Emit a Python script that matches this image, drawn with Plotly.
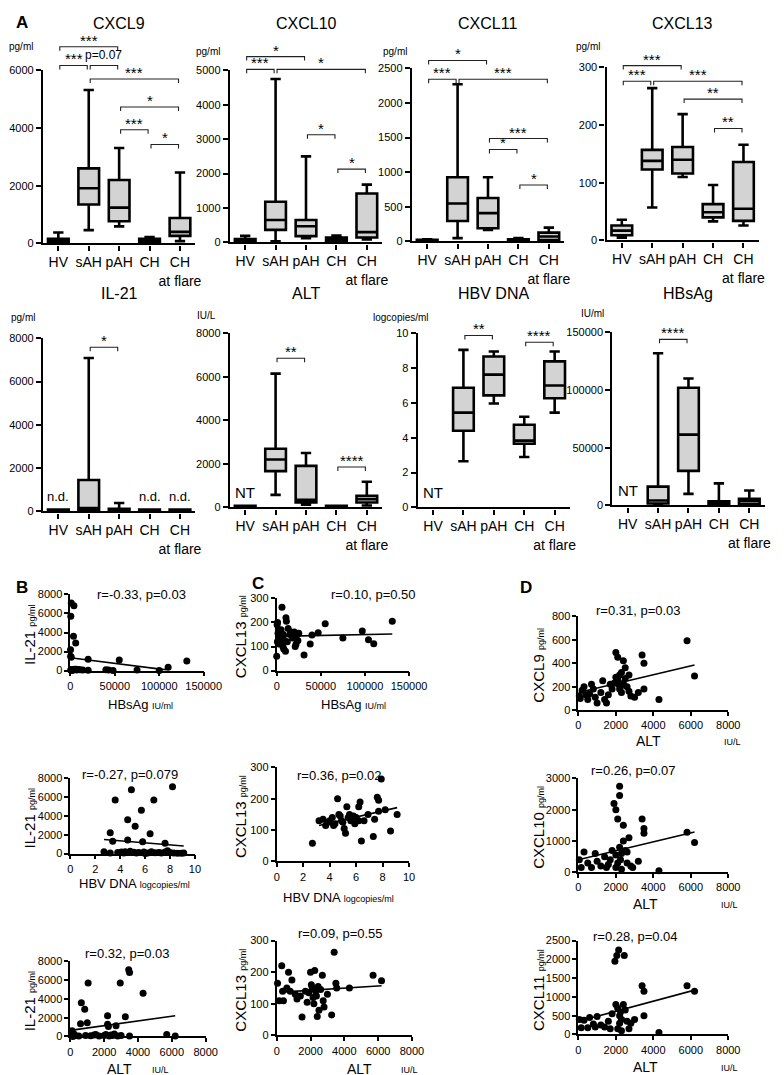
import plotly.graph_objects as go

W, H = 784, 1075
FONT = "Liberation Sans, Arial, sans-serif"

# ---------------- DATA ----------------
categories = ["HV", "sAH", "pAH", "CH", "CH<br>at flare"]

# Panel A box statistics per category: lower whisker, Q1, median, Q3, upper whisker
cxcl9_lo = [10, 460, 590, 20, 80]
cxcl9_q1 = [40, 1350, 770, 60, 260]
cxcl9_med = [90, 1910, 1240, 120, 400]
cxcl9_q3 = [160, 2600, 2200, 160, 880]
cxcl9_hi = [380, 5320, 3310, 220, 2460]

cxcl10_lo = [0, 30, 125, 10, 86]
cxcl10_q1 = [20, 364, 182, 40, 144]
cxcl10_med = [60, 650, 470, 90, 300]
cxcl10_q3 = [100, 1180, 650, 140, 1420]
cxcl10_hi = [190, 4750, 2500, 200, 1680]

cxcl11_lo = [0, 48, 167, 0, 10]
cxcl11_q1 = [5, 295, 190, 10, 20]
cxcl11_med = [15, 547, 409, 20, 71]
cxcl11_q3 = [25, 928, 628, 30, 128]
cxcl11_hi = [30, 2271, 928, 50, 200]

cxcl13_lo = [4.6, 57, 110, 33, 26]
cxcl13_q1 = [9, 123, 116, 40, 34]
cxcl13_med = [17, 138, 140, 49, 55]
cxcl13_q3 = [26, 157, 162, 63, 136]
cxcl13_hi = [36, 264, 219, 96, 166]

il21_lo = [0, 0, 0, 0, 0]
il21_q1 = [0, 60, 20, 0, 0]
il21_med = [30, 150, 60, 30, 30]
il21_q3 = [80, 1450, 120, 80, 80]
il21_hi = [80, 7090, 390, 80, 80]

alt_lo = [0, 576, 121, 0, 91]
alt_q1 = [0, 1670, 227, 0, 227]
alt_med = [30, 2200, 348, 30, 379]
alt_q3 = [80, 2700, 1910, 80, 530]
alt_hi = [80, 6150, 2500, 80, 1180]

hbv_lo = [None, 2.65, 5.97, 2.90, 5.45]
hbv_q1 = [None, 4.41, 6.44, 3.66, 6.27]
hbv_med = [None, 5.45, 7.63, 3.84, 7.01]
hbv_q3 = [None, 6.88, 8.67, 4.75, 8.39]
hbv_hi = [None, 9.05, 8.96, 5.21, 8.96]

hbsag_lo = [None, 0, 10000, 0, 0]
hbsag_q1 = [None, 1700, 30000, 500, 1000]
hbsag_med = [None, 4300, 61400, 1500, 3700]
hbsag_q3 = [None, 16300, 102000, 3500, 5700]
hbsag_hi = [None, 132000, 110000, 19100, 12900]

# significance brackets: (from category, to category, value, label)
cxcl9_sig = [(0, 2, 6820, "***"), (0, 1, 6170, "***"), (1, 2, 6170, "p=0.07"),
             (1, 4, 5700, "***"), (2, 4, 4730, "*"), (2, 3, 3940, "***"), (3, 4, 3430, "*")]
cxcl10_sig = [(0, 2, 5400, "*"), (0, 1, 5030, "***"), (1, 4, 5030, "*"),
              (2, 3, 3130, "*"), (3, 4, 2130, "*")]
cxcl11_sig = [(0, 2, 2615, "*"), (0, 1, 2343, "***"), (1, 4, 2343, "***"),
              (2, 4, 1486, "***"), (2, 3, 1329, "*"), (3, 4, 815, "*")]
cxcl13_sig = [(0, 2, 303, "***"), (0, 1, 276, "***"), (1, 4, 276, "***"),
              (2, 4, 245, "**"), (3, 4, 194, "**")]
il21_sig = [(1, 2, 7590, "*")]
alt_sig = [(1, 2, 6860, "**"), (3, 4, 1860, "****")]
hbv_sig = [(1, 2, 9.88, "**"), (3, 4, 9.49, "****")]
hbsag_sig = [(1, 2, 144000, "****")]

# Panels B-D scatter data
b1_hbsag = [1000, 4000, 500, 3500, 6000, 200, 300, 1000, 20000, 55000, 110000, 131000,
            500, 1500, 3000, 5000, 7000, 9000, 11000, 14000, 20000, 40000, 43000, 48000,
            75000, 100000, 2000, 800, 6500]
b1_il21 = [7100, 6800, 5700, 3600, 2900, 2200, 1500, 1400, 1200, 1100, 350, 1000,
           50, 100, 80, 150, 60, 120, 100, 50, 30, 80, 60, 20, 50, 10, 0, 100, 150]
b2_hbv = [8.2, 4.9, 3.6, 6.7, 5.7, 4.6, 5.2, 3.2, 6.4, 3.4, 4.6, 5.8, 7.6,
          2.7, 3.2, 3.8, 4.1, 4.4, 4.8, 5.0, 5.3, 5.5, 5.9, 6.2, 6.5, 6.8, 7.3, 7.6, 7.8,
          8.0, 8.3, 8.6, 8.9, 9.1, 7.1, 5.1, 4.3, 6.0]
b2_il21 = [7100, 6800, 5700, 5700, 4600, 3600, 2900, 2200, 2100, 1300, 1450, 1250, 1100,
           200, 50, 100, 150, 200, 250, 100, 50, 100, 150, 50, 200, 80, 50, 150, 300,
           100, 50, 30, 40, 60, 120, 130, 60, 0]
b3_alt = [1050, 650, 850, 1000, 600, 2950, 3450, 3500, 4300, 2200, 3250, 2200, 2250, 2700,
          100, 200, 300, 500, 900, 1200, 1400, 1500, 1700, 2000, 2100, 2300, 2400, 2500,
          2600, 2800, 3000, 3500, 5700, 6200, 150]
b3_il21 = [5700, 3600, 2900, 1450, 1350, 5700, 7100, 6800, 4600, 2200, 2100, 1300, 1050, 1150,
           600, 300, 100, 50, 100, 80, 150, 200, 50, 100, 200, 50, 150, 100,
           250, 50, 100, 50, 200, 50, 0]

c1_hbsag = [0, 500, 1000, 2000, 3000, 3500, 4000, 5000, 6000, 7000, 7500, 8000, 9000, 10000,
            10500, 11000, 12000, 13000, 15000, 18000, 20000, 21000, 22000, 23000, 24000, 2500,
            1500, 4500, 6500, 31000, 38000, 40000, 47000, 55000, 75000, 97000, 104000, 110000,
            131000, 800, 16000, 25000, 2200, 3800]
c1_cxcl13 = [60, 190, 200, 140, 150, 120, 130, 170, 263, 100, 150, 90, 125, 80,
             220, 205, 120, 175, 150, 135, 160, 100, 110, 150, 125, 110,
             155, 145, 140, 65, 110, 148, 157, 195, 135, 165, 128, 112,
             205, 120, 160, 155, 170, 165]
c2_hbv = [2.7, 3.2, 3.5, 3.7, 4.0, 4.2, 4.4, 4.6, 4.7, 4.8, 4.9, 5.0, 5.1, 5.2, 5.3, 5.4, 5.5,
          5.6, 5.8, 6.0, 6.2, 6.2, 6.3, 6.4, 6.6, 6.9, 7.3, 7.4, 7.6, 7.7, 7.7, 7.9, 8.2, 8.6,
          9.1, 4.3, 3.9, 5.9]
c2_cxcl13 = [58, 130, 135, 115, 130, 140, 120, 200, 150, 145, 130, 125, 105, 90, 175, 140, 150,
             130, 145, 140, 130, 175, 190, 65, 130, 150, 80, 135, 205, 195, 160, 263, 165, 97,
             150, 115, 125, 120]
c3_alt = [50, 150, 300, 350, 400, 600, 700, 800, 900, 1100, 1200, 1400, 1500, 1800, 1900, 2000,
          2050, 2100, 2150, 2200, 2250, 2300, 2400, 2450, 2500, 2600, 2700, 2750, 2800, 3000,
          3250, 3400, 3500, 3550, 4300, 5700, 6200, 1700, 2350]
c3_cxcl13 = [165, 110, 220, 140, 110, 150, 200, 140, 175, 130, 115, 125, 58, 105, 135, 200,
             160, 150, 120, 100, 205, 140, 60, 155, 80, 145, 190, 110, 90, 130,
             65, 263, 165, 150, 150, 190, 173, 140, 125]

d1_alt = [50, 100, 200, 300, 400, 500, 600, 700, 800, 900, 1000, 1200, 1300, 1400, 1500, 1600,
          1800, 1900, 2000, 2000, 2100, 2100, 2150, 2200, 2200, 2250, 2300, 2300, 2400, 2400,
          2500, 2600, 2700, 2700, 2800, 3000, 3200, 3400, 3500, 3500, 4300, 5800, 6200, 1700, 2500]
d1_cxcl9 = [120, 100, 170, 200, 130, 90, 140, 220, 180, 110, 60, 150, 250, 90, 60, 130,
            180, 230, 280, 490, 450, 260, 220, 300, 180, 200, 320, 150, 420, 230,
            270, 200, 300, 160, 120, 110, 150, 470, 400, 180, 90, 590, 290, 220, 360]
d2_alt = [50, 150, 300, 500, 700, 900, 1000, 1200, 1400, 1500, 1600, 1800, 1900, 2000, 2000,
          2100, 2100, 2200, 2200, 2200, 2250, 2300, 2300, 2400, 2400, 2500, 2600, 2700, 2800,
          2900, 3200, 3400, 3500, 3500, 4300, 5800, 6200, 1700, 2600, 2000]
d2_cxcl10 = [400, 150, 650, 300, 150, 600, 350, 200, 500, 150, 250, 700, 2200, 2000, 550,
             300, 1700, 2450, 2750, 800, 400, 600, 100, 1500, 1000, 700, 300, 1100, 200,
             150, 350, 1700, 1400, 1250, 50, 1280, 950, 400, 650, 150]
d3_alt = [50, 150, 300, 500, 600, 800, 900, 1000, 1200, 1400, 1600, 1800, 1950, 2050, 2150,
          2450, 2000, 2100, 2200, 2200, 2250, 2300, 2300, 2400, 2500, 2600, 2700, 2800, 3000,
          3400, 3500, 3500, 4300, 5800, 6200, 1700, 2100]
d3_cxcl11 = [400, 180, 380, 180, 450, 280, 200, 480, 250, 200, 350, 550, 1950, 2100, 2250,
             2100, 800, 700, 500, 300, 600, 400, 100, 800, 650, 350, 150, 300, 400,
             1300, 1150, 500, 50, 1300, 1150, 150, 150]

# linear fits: (x start, x end, intercept, slope)
b1_fit = (0, 108000, 1350, -0.0118)
b2_fit = (2.7, 9.1, 1795, -109.4)
b3_fit = (0, 6200, 650, 0.25)
c1_fit = (0, 131000, 142, 0.0000763)
c2_fit = (3.2, 9.1, 84, 9.66)
c3_fit = (300, 6200, 136, 0.00339)
d1_fit = (0, 6200, 150, 0.0379)
d2_fit = (0, 6200, 400, 0.1435)
d3_fit = (0, 6200, 350, 0.1339)

# ---------------- FIGURE ----------------
fig = go.Figure()
layout = dict(width=W, height=H, margin=dict(l=0, r=0, t=0, b=0),
              plot_bgcolor="white", paper_bgcolor="white", showlegend=False,
              font=dict(family=FONT, color="black"))
annotations = []
shapes = []


def xd(a, b):
    return [a / W, b / W]


def yd(top, bot):
    return [1 - bot / H, 1 - top / H]


def ann(text, x, y, size, xanchor="center", yanchor="middle", angle=0, bold=False):
    annotations.append(dict(text=("<b>%s</b>" % text) if bold else text, x=x / W, y=1 - y / H,
                            xref="paper", yref="paper", showarrow=False, xanchor=xanchor,
                            yanchor=yanchor, textangle=angle,
                            font=dict(size=size, family=FONT, color="black")))


def axkeys(k):
    s = "" if k == 1 else str(k)
    return "xaxis" + s, "yaxis" + s, "x" + s, "y" + s


SP = 31.25
BOXFILL = "#d3d3d3"

box_panels = [
    # title, unit, stats, sig, left px, top px, bottom px, ymax, dtick, title y, unit x-right, unit y, notes
    ("CXCL9", "pg/ml", (cxcl9_lo, cxcl9_q1, cxcl9_med, cxcl9_q3, cxcl9_hi), cxcl9_sig,
     33, 57, 232, 6000, 2000, 10, 25, 33, []),
    ("CXCL10", "pg/ml", (cxcl10_lo, cxcl10_q1, cxcl10_med, cxcl10_q3, cxcl10_hi), cxcl10_sig,
     225, 57, 231, 5000, 1000, 10, 217, 38, []),
    ("CXCL11", "pg/ml", (cxcl11_lo, cxcl11_q1, cxcl11_med, cxcl11_q3, cxcl11_hi), cxcl11_sig,
     412, 55, 230, 2500, 500, 10, 409, 38, []),
    ("CXCL13", "pg/ml", (cxcl13_lo, cxcl13_q1, cxcl13_med, cxcl13_q3, cxcl13_hi), cxcl13_sig,
     612, 54, 229, 300, 100, 10, 607, 33, []),
    ("IL-21", "pg/ml", (il21_lo, il21_q1, il21_med, il21_q3, il21_hi), il21_sig,
     33, 328, 503, 8000, 2000, 283, 27, 307, [(0, "n.d."), (3, "n.d."), (4, "n.d.")]),
    ("ALT", "IU/L", (alt_lo, alt_q1, alt_med, alt_q3, alt_hi), alt_sig,
     225, 323, 499, 8000, 2000, 283, 213, 305, [(0, "NT")]),
    ("HBV DNA", "logcopies/ml", (hbv_lo, hbv_q1, hbv_med, hbv_q3, hbv_hi), hbv_sig,
     418, 323, 499, 10, 2, 283, 432, 307, [(0, "NT")]),
    ("HBsAg", "IU/ml", (hbsag_lo, hbsag_q1, hbsag_med, hbsag_q3, hbsag_hi), hbsag_sig,
     618, 322, 497, 150000, 50000, 283, 611, 303, [(0, "NT")]),
]

k = 0
for (title, unit, stats, sig, left, top, bot, ymax, dtick, ty, ux, uy, notes) in box_panels:
    k += 1
    xa, ya, xr, yr = axkeys(k)
    right = left + 5 * SP
    lo, q1, med, q3, hi = stats
    idx = [i for i in range(5) if q1[i] is not None]
    fig.add_trace(go.Box(
        x=idx, q1=[q1[i] for i in idx], median=[med[i] for i in idx], q3=[q3[i] for i in idx],
        lowerfence=[lo[i] for i in idx], upperfence=[hi[i] for i in idx],
        width=0.68, whiskerwidth=0.5, boxpoints=False, fillcolor=BOXFILL,
        line=dict(color="black", width=2.6), xaxis=xr, yaxis=yr, hoverinfo="skip"))
    layout[xa] = dict(domain=xd(left, right), anchor=yr, range=[-0.5, 4.5],
                      tickvals=list(range(5)), ticktext=categories, tickangle=0,
                      showline=True, linecolor="black", linewidth=2.4, ticks="outside",
                      ticklen=5, tickwidth=2, tickcolor="black", showgrid=False, zeroline=False,
                      tickfont=dict(size=14, family=FONT, color="black"))
    layout[ya] = dict(domain=yd(top, bot), anchor=xr, range=[0, ymax], dtick=dtick, tick0=0,
                      tickformat="d", showline=True, linecolor="black", linewidth=2.4,
                      ticks="outside", ticklen=5, tickwidth=2, tickcolor="black",
                      showgrid=False, zeroline=False,
                      tickfont=dict(size=11, family=FONT, color="black"))
    ann(title, left + 2.5 * SP, ty, 16)
    ann(unit, ux, uy, 10, xanchor="right")

    def cx(i, left=left):
        return left + (i + 0.5) * SP

    def cy(v, top=top, bot=bot, ymax=ymax):
        return bot - v / ymax * (bot - top)

    for (a, b, v, lab) in sig:
        x0, x1, y = cx(a) + 1.5, cx(b) - 1.5, cy(v)
        path = "M %f %f L %f %f L %f %f L %f %f" % (
            x0 / W, 1 - (y + 4) / H, x0 / W, 1 - y / H, x1 / W, 1 - y / H, x1 / W, 1 - (y + 4) / H)
        shapes.append(dict(type="path", path=path, xref="paper", yref="paper",
                           line=dict(color="#222222", width=1.1)))
        if lab.startswith("p"):
            ann(lab, (x0 + x1) / 2, y - 1, 12, yanchor="bottom")
        else:
            ann(lab, (x0 + x1) / 2, y + 4, 15, yanchor="bottom")
    for (i, txt) in notes:
        if txt == "NT":
            ann(txt, cx(i), bot - 4, 15, yanchor="bottom")
        else:
            ann(txt, cx(i), bot - 5, 13, yanchor="bottom")

ann("A", 3, 9, 17, xanchor="left", bold=True)

scatter_panels = [
    # x, y, fit, xmax, xdtick, ymax, ydtick, (left, right, top, bottom), r text, r center,
    # ytitle, yunit, ytitle x, xtitle, xunit, xtitle center, xunit center (None = inline)
    (b1_hbsag, b1_il21, b1_fit, 150000, 50000, 8000, 2000, (61, 198, 587, 664),
     "r=-0.33, p=0.03", (134, 587), "IL-21", "pg/ml", 19, "HBsAg", "IU/ml", (133, 698), None),
    (b2_hbv, b2_il21, b2_fit, 10, 2, 8000, 2000, (61, 189, 773, 849),
     "r=-0.27, p=0.079", (122, 769), "IL-21", "pg/ml", 19, "HBV DNA", "logcopies/ml", (127, 879), None),
    (b3_alt, b3_il21, b3_fit, 8000, 2000, 8000, 2000, (61, 200, 958, 1034),
     "r=0.32, p=0.03", (120, 950), "IL-21", "pg/ml", 19, "ALT", "IU/L", (111, 1067), (154, 1067)),
    (c1_hbsag, c1_cxcl13, c1_fit, 150000, 50000, 300, 100, (273, 409, 591, 664),
     "r=0.10, p=0.50", (372, 587), "CXCL13", "pg/ml", 236, "HBsAg", "IU/ml", (352, 698), None),
    (c2_hbv, c2_cxcl13, c2_fit, 10, 2, 300, 100, (273, 409, 762, 857),
     "r=0.36, p=0.02", (338, 770), "CXCL13", "pg/ml", 236, "HBV DNA", "logcopies/ml", (337, 893), None),
    (c3_alt, c3_cxcl13, c3_fit, 8000, 2000, 300, 100, (273, 412, 937, 1033),
     "r=0.09, p=0.55", (339, 930), "CXCL13", "pg/ml", 236, "ALT", "IU/L", (358, 1067), (409, 1067)),
    (d1_alt, d1_cxcl9, d1_fit, 8000, 2000, 800, 200, (583, 737, 609, 704),
     "r=0.31, p=0.03", (645, 603), "CXCL9", "pg/ml", 542, "ALT", "IU/L", (655, 735), (741, 735)),
    (d2_alt, d2_cxcl10, d2_fit, 8000, 2000, 3000, 1000, (583, 737, 773, 868),
     "r=0.26, p=0.07", (640, 765), "CXCL10", "pg/ml", 542, "ALT", "IU/L", (652, 900), (738, 900)),
    (d3_alt, d3_cxcl11, d3_fit, 8000, 2000, 2500, 500, (583, 737, 937, 1032),
     "r=0.28, p=0.04", (642, 933), "CXCL11", "pg/ml", 542, "ALT", "IU/L", (652, 1065), (738, 1065)),
]

for (xs, ys, fit, xmax, xdt, ymax, ydt, geo, rtxt, rpos, ytit, yunit, ytx, xtit, xunit, xtp, xup) in scatter_panels:
    k += 1
    xa, ya, xr, yr = axkeys(k)
    left, right, top, bot = geo
    fig.add_trace(go.Scatter(x=xs, y=ys, mode="markers", cliponaxis=False,
                             marker=dict(size=7, color="black"), xaxis=xr, yaxis=yr, hoverinfo="skip"))
    x0, x1, b0, m = fit
    fig.add_trace(go.Scatter(x=[x0, x1], y=[b0 + m * x0, b0 + m * x1], mode="lines",
                             line=dict(color="black", width=1.6), xaxis=xr, yaxis=yr, hoverinfo="skip"))
    layout[xa] = dict(domain=xd(left, right), anchor=yr, range=[0, xmax], dtick=xdt, tick0=0,
                      tickformat="d", showline=True, linecolor="black", linewidth=1.8,
                      ticks="outside", ticklen=4, tickwidth=1.5, tickcolor="black",
                      showgrid=False, zeroline=False, tickfont=dict(size=11, family=FONT))
    layout[ya] = dict(domain=yd(top, bot), anchor=xr, range=[0, ymax], dtick=ydt, tick0=0,
                      tickformat="d", showline=True, linecolor="black", linewidth=1.8,
                      ticks="outside", ticklen=4, tickwidth=1.5, tickcolor="black",
                      showgrid=False, zeroline=False, tickfont=dict(size=11, family=FONT))
    ann(rtxt, rpos[0], rpos[1], 13)
    ann(ytit + " <span style='font-size:9px'>" + yunit + "</span>", ytx, (top + bot) / 2 + 2, 15, angle=-90)
    if xup is None:
        ann(xtit + " <span style='font-size:9px'>" + xunit + "</span>", xtp[0], xtp[1], 13)
    else:
        ann(xtit, xtp[0], xtp[1], 14)
        ann(xunit, xup[0], xup[1] + 1, 9)

ann("B", 3, 580, 17, xanchor="left", bold=True)
ann("C", 246, 576, 17, xanchor="left", bold=True)
ann("D", 521, 580, 17, xanchor="left", bold=True)

layout["annotations"] = annotations
layout["shapes"] = shapes
fig.update_layout(**layout)
fig.write_html("out.html")
